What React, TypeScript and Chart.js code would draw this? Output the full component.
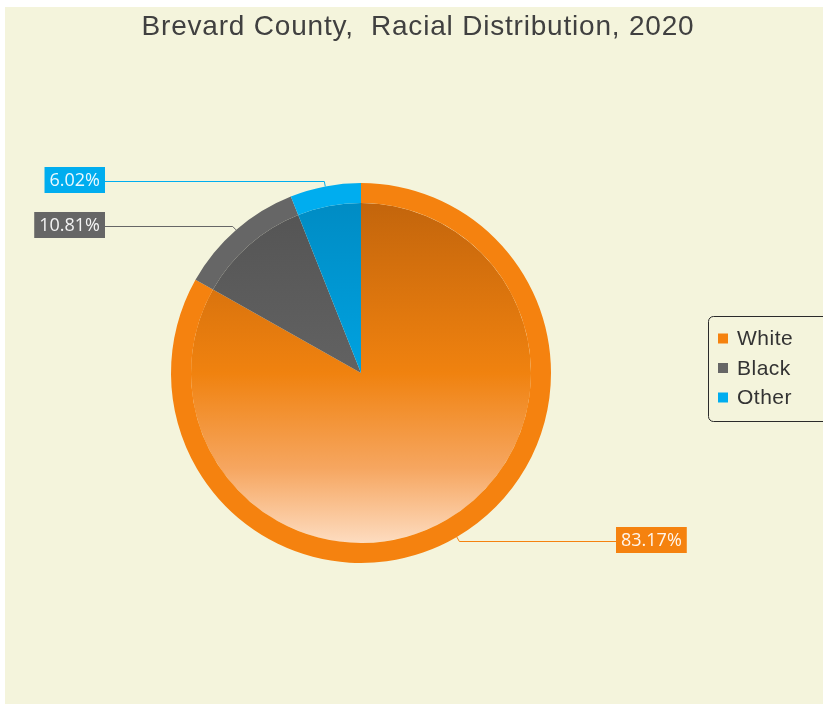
import React, { useEffect, useRef } from "react";
import { Chart, registerables } from "chart.js";

Chart.register(...registerables);

const TITLE = "Brevard County,  Racial Distribution, 2020";
const categories = ["White", "Black", "Other"];
const values = [83.17, 10.81, 6.02];
const valueLabels = ["83.17%", "10.81%", "6.02%"];
const ringColors = ["#f5820f", "#666666", "#00adef"];
const innerTop = ["#c3650c", "#545454", "#008cc4"];
const innerMid = ["#f0820f", "#626262", "#00a2e0"];
const innerLow = ["#f6a660", "#8a8a8a", "#55c6f0"];
const innerBottom = ["#fddcc0", "#c8c8c8", "#b8e6f8"];

const BG = "#f4f4dc";

const customPlugin = {
  id: "custom",
  beforeDraw(chart: any) {
    const { ctx, width, height } = chart;
    ctx.save();
    ctx.fillStyle = BG;
    ctx.fillRect(0, 0, width, height);
    ctx.restore();
  },
  afterDraw(chart: any) {
    const { ctx } = chart;
    ctx.save();
    // title
    ctx.font = '28px "Liberation Sans", Arial, sans-serif';
    (ctx as any).letterSpacing = "0.8px";
    ctx.fillStyle = "#404040";
    ctx.textAlign = "center";
    ctx.textBaseline = "alphabetic";
    ctx.fillText(TITLE, 413, 28);
    (ctx as any).letterSpacing = "0px";

    // callout labels
    const meta = chart.getDatasetMeta(0);
    meta.data.forEach((arc: any, i: number) => {
      const { x, y, startAngle, endAngle, outerRadius } = arc.getProps(
        ["x", "y", "startAngle", "endAngle", "outerRadius"],
        true
      );
      const mid = (startAngle + endAngle) / 2;
      const c = Math.cos(mid);
      const s = Math.sin(mid);
      const x1 = x + c * outerRadius;
      const y1 = y + s * outerRadius;
      const x2 = x + c * (outerRadius + 5);
      const y2 = Math.round(y + s * (outerRadius + 5)) + 0.5;
      const left = c < 0;
      const lx = left ? x - 256 : x + 255;
      ctx.strokeStyle = ringColors[i];
      ctx.lineWidth = 1;
      ctx.beginPath();
      ctx.moveTo(x1, y1);
      ctx.lineTo(x2, y2);
      ctx.lineTo(lx, y2);
      ctx.stroke();
      ctx.font = '18px "Open Sans", "Noto Sans", sans-serif';
      const tw = ctx.measureText(valueLabels[i]).width;
      const bw = tw + 10;
      const bh = 26;
      const bx = left ? lx - bw : lx;
      const by = Math.round(y2 - bh / 2 - 1.5);
      ctx.fillStyle = ringColors[i];
      ctx.fillRect(bx, by, bw, bh);
      ctx.fillStyle = "rgba(255,255,255,0.92)";
      ctx.textAlign = "center";
      ctx.textBaseline = "middle";
      ctx.fillText(valueLabels[i], bx + bw / 2, by + bh / 2 + 1);
    });

    // legend
    const lx0 = 703.5;
    const ly0 = 309.5;
    const lw = 140;
    const lh = 105;
    ctx.strokeStyle = "#2a2a2a";
    ctx.lineWidth = 1;
    ctx.beginPath();
    ctx.roundRect(lx0, ly0, lw, lh, 5);
    ctx.stroke();
    ctx.font = '21px "Liberation Sans", Arial, sans-serif';
    (ctx as any).letterSpacing = "0.5px";
    ctx.textAlign = "left";
    ctx.textBaseline = "middle";
    categories.forEach((name, i) => {
      const cy = 331.5 + i * 29.5;
      ctx.fillStyle = ringColors[i];
      ctx.fillRect(713, cy - 5, 10, 10);
      ctx.fillStyle = "#333333";
      ctx.fillText(name, 732, cy + 1);
    });
    (ctx as any).letterSpacing = "0px";
    ctx.restore();
  },
};

export default function App() {
  const ref = useRef<HTMLCanvasElement | null>(null);
  useEffect(() => {
    document.body.style.margin = "0";
    document.body.style.overflow = "hidden";
    const canvas = ref.current!;
    const chart = new Chart(canvas, {
      type: "pie",
      data: {
        labels: categories,
        datasets: [
          {
            data: values,
            backgroundColor: ringColors,
            borderWidth: 0,
            weight: 20,
          } as any,
          {
            data: values,
            backgroundColor: (context: any) => {
              const ch = context.chart;
              const area = ch.chartArea;
              const i = context.dataIndex;
              if (!area) return innerMid[i];
              const g = ch.ctx.createLinearGradient(0, area.top + 20, 0, area.bottom - 20);
              g.addColorStop(0, innerTop[i]);
              g.addColorStop(0.5, innerMid[i]);
              g.addColorStop(0.78, innerLow[i]);
              g.addColorStop(1, innerBottom[i]);
              return g;
            },
            borderWidth: 0,
            weight: 170,
          } as any,
        ],
      },
      options: {
        responsive: false,
        animation: false,
        events: [],
        layout: { padding: { left: 166, right: 272, top: 176, bottom: 141 } },
        plugins: {
          legend: { display: false },
          tooltip: { enabled: false },
          title: { display: false },
        },
      },
      plugins: [customPlugin],
    });
    return () => chart.destroy();
  }, []);
  return (
    <div style={{ position: "fixed", left: 5, top: 7, width: 818, height: 697 }}>
      <canvas ref={ref} width={818} height={697} style={{ display: "block" }} />
    </div>
  );
}
